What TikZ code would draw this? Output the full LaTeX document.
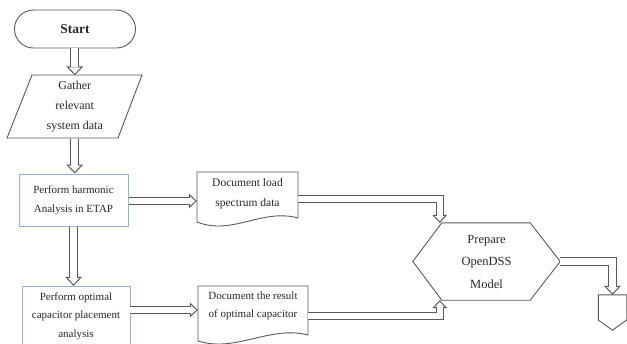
\documentclass[tikz,border=0pt]{standalone}
\usepackage{fontspec}
\setmainfont{Liberation Serif}
\usetikzlibrary{arrows.meta,calc}
\definecolor{linec}{RGB}{90,90,90}
\definecolor{boxc}{RGB}{150,178,210}
\definecolor{txtc}{RGB}{40,40,40}
\tikzset{
  shapeline/.style={draw=linec, line width=0.9pt},
  txt/.style={inner sep=0pt, align=center, text=txtc},
  blkout/.style={line width=9pt, draw=linec,
    -{Triangle[length=9pt, width=17pt, line width=1pt, fill=white]}},
  blkin/.style={line width=6.8pt, draw=white, shorten >=8pt},
  thinout/.style={line width=8pt, draw=linec,
    -{Triangle[length=8pt, width=15pt, line width=1pt, fill=white]}},
  thinin/.style={line width=5.8pt, draw=white, shorten >=7pt},
}
\newcommand{\hollow}[2]{\draw[#1out] #2; \draw[#1in] #2;}
\begin{document}
\begin{tikzpicture}[x=1pt, y=-1pt]
\useasboundingbox (0,0) rectangle (627,343);
\fill[white] (0,0) rectangle (627,343);
\begin{scope}
\clip (0,0) rectangle (627,343);

% Start
\node[shapeline, txt, rounded corners=19pt, minimum width=121pt, minimum height=38pt,
      font=\bfseries\fontsize{13.5}{16}\selectfont] (start) at (75,29) {Start};

% Gather (parallelogram)
\node[txt, minimum width=110pt, minimum height=63pt,
      font=\fontsize{12}{20}\selectfont] (gather) at (74.75,107) {Gather\\relevant\\system data};
\draw[shapeline] (32,75) -- (142,75) -- (118,138) -- (7,138) -- cycle;

% Box 1
\node[draw=boxc, line width=1pt, txt, minimum width=109pt, minimum height=52pt,
      font=\fontsize{11}{19}\selectfont] (b1) at (73.5,200) {Perform harmonic\\Analysis in ETAP};

% Box 2
\draw[draw=boxc, line width=1pt] (22,286) rectangle (130,360);
\node[txt, minimum width=108pt, minimum height=60pt,
      font=\fontsize{11}{18.5}\selectfont] (b2) at (76,316) {Perform optimal\\capacitor placement\\analysis};

% Document 1
\draw[shapeline] (197,172) -- (298,172) -- (298,218)
   .. controls (262,208) and (232,236) .. (197,222) -- cycle;
\node[txt, minimum width=101pt, minimum height=44pt,
      font=\fontsize{11.5}{20}\selectfont] (d1) at (247.5,194) {Document load\\spectrum data};

% Document 2
\draw[shapeline] (198,286) -- (308,286) -- (308,335)
   .. controls (270,325) and (236,353) .. (198,341) -- cycle;
\node[txt, minimum width=110pt, minimum height=40pt,
      font=\fontsize{11}{18}\selectfont] (d2) at (253,306) {Document the result\\of optimal capacitor};

% Hexagon
\node[txt, minimum width=147pt, minimum height=77pt,
      font=\fontsize{12.5}{22.5}\selectfont] (hex) at (486.5,261.5) {Prepare\\OpenDSS\\Model};
\draw[shapeline] (hex.west) -- ($(hex.north west)+(29,0)$) -- ($(hex.north east)+(-30,0)$)
   -- (hex.east) -- ($(hex.south east)+(-30,0)$) -- ($(hex.south west)+(29,0)$) -- cycle;

% Off-page connector
\node[minimum width=28pt, minimum height=35pt, inner sep=0pt] (off) at (612.5,312.5) {};
\draw[shapeline] (off.north west) -- (off.north east) -- ($(off.east)+(0,7.5)$)
   -- (off.south) -- ($(off.west)+(0,7.5)$) -- cycle;

% helper coordinates
\coordinate (hexTop) at ($(hex.north west)+(27,0)$);
\coordinate (hexBot) at ($(hex.south west)+(27,0)$);
\coordinate (d1out) at ($(d1.east)+(0,5)$);
\coordinate (d2out) at ($(d2.east)+(0,10)$);
\coordinate (b2out) at ($(b2.east)+(0,-6)$);
\coordinate (b1out) at ($(b1.east)+(0,1)$);
\coordinate (startout) at (start.south -| gather.north);

% connectors
\hollow{blk}{(startout) -- (gather.north)}
\hollow{blk}{(gather.south) -- (gather.south |- b1.north)}
\hollow{blk}{(b1.south) -- (b1.south |- b2.north)}
\hollow{thin}{(b1out) -- (b1out -| d1.west)}
\hollow{thin}{(b2out) -- (b2out -| d2.west)}
\hollow{thin}{(d1out) -| (hexTop)}
\hollow{thin}{(d2out) -| (hexBot)}
\hollow{blk}{(hex.east) -| (off.north)}
\end{scope}
\end{tikzpicture}
\end{document}
